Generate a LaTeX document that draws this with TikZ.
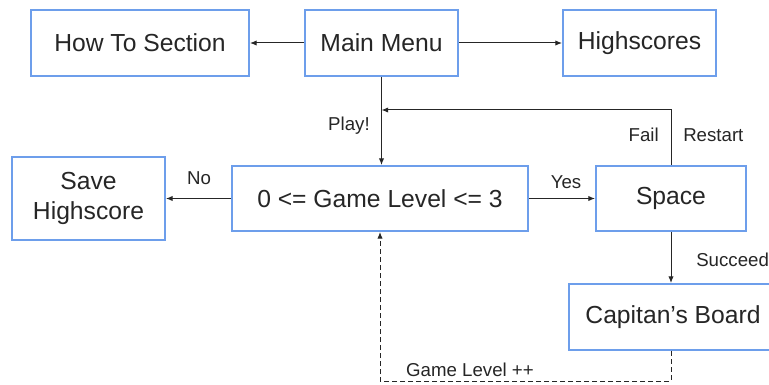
\documentclass[tikz,border=0pt]{standalone}
\usepackage{fontspec}
\setmainfont{Liberation Sans}
\usetikzlibrary{arrows.meta}
\definecolor{boxblue}{HTML}{6D9EEB}
\definecolor{txt}{HTML}{262626}
\tikzset{
  box/.style={draw=boxblue, line width=1.5pt, fill=white, rectangle, inner sep=0pt,
    text=txt, align=center, font=\fontsize{18.5}{22.5}\selectfont},
  conn/.style={draw=black!85, line width=0.75pt, -{Latex[length=5pt,width=4pt]}},
  dconn/.style={conn, dash pattern=on 3.5pt off 2.5pt, line width=0.7pt},
  lbl/.style={text=txt, font=\fontsize{14}{17}\selectfont, inner sep=0pt}
}
\begin{document}
\begin{tikzpicture}[x=0.75pt,y=-0.75pt]
\useasboundingbox (0,0) rectangle (769,385);
\clip (0,0) rectangle (769,385);
\fill[white] (0,0) rectangle (769,385);
\node[box, minimum width=163.5pt, minimum height=49.5pt] (howto) at (140,43) {How To Section};
\node[box, minimum width=114.75pt, minimum height=49.5pt] (mm) at (381.5,43) {Main Menu};
\node[box, minimum width=114.75pt, minimum height=49.5pt] (hs) at (639.5,43) {Highscores};
\node[box, minimum width=114.75pt, minimum height=62.25pt] (save) at (88.5,198.5) {Save\\Highscore};
\node[box, minimum width=222pt, minimum height=48.75pt] (gl) at (380,198.5) {0 <= Game Level <= 3};
\node[box, minimum width=112.5pt, minimum height=48.75pt] (sp) at (671,198.5) {Space};
\node[box, minimum width=156pt, minimum height=49.5pt] (cb) at (673,317) {Capitan’s Board};
\coordinate (loop) at (381.5,110);
\coordinate (bot) at (0,381);

\draw[conn] (mm.west) -- (howto.east);
\draw[conn] (mm.east) -- (hs.west);
\draw[conn] (mm.south) -- (mm.south |- gl.north);
\draw[conn] (sp.north) |- (loop);
\draw[conn] (gl.east) -- (sp.west);
\draw[conn] (gl.west) -- (save.east);
\draw[conn] (sp.south) -- (sp.south |- cb.north);
\draw[dconn] (sp.south |- cb.south) -- (sp.south |- bot) -| (gl.south);

\node[lbl, anchor=east] (lplay) at (370,126) {Play!};
\node[lbl, anchor=east] (lfail) at (659,135) {Fail};
\node[lbl, anchor=west] (lrest) at (683,135) {Restart};
\node[lbl] (lyes) at (566,182) {Yes};
\node[lbl] (lno) at (199,178) {No};
\node[lbl, anchor=west] (lsucc) at (696,260) {Succeed};
\node[lbl] (lgl) at (470,370) {Game Level ++};
\end{tikzpicture}
\end{document}
